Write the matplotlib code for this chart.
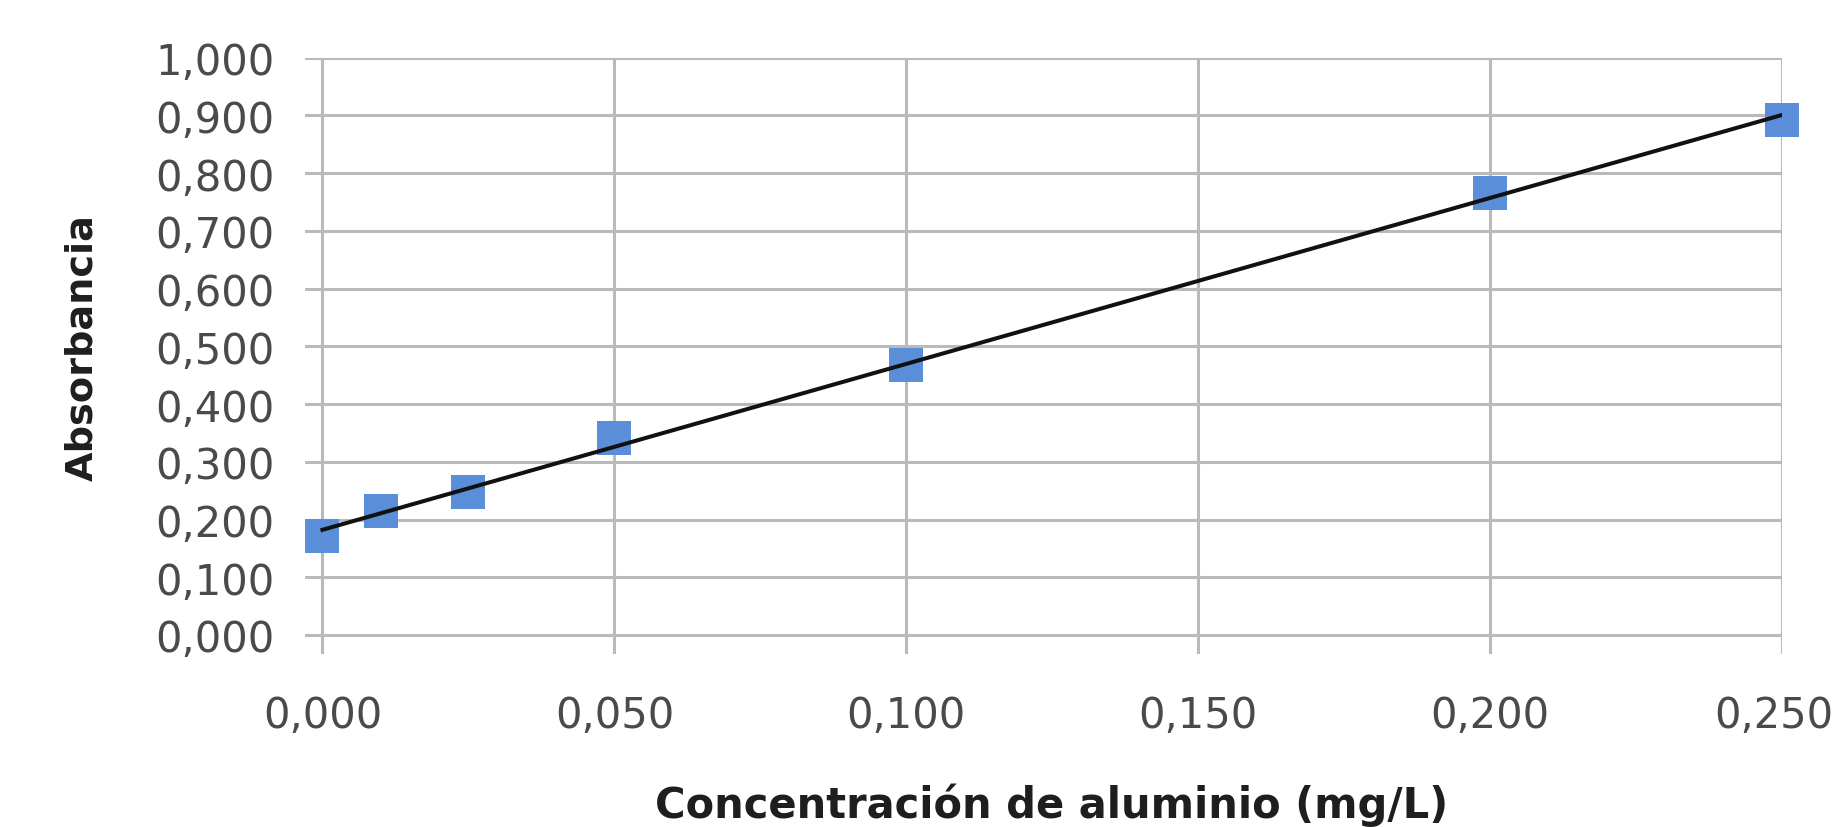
import numpy as np
import matplotlib
matplotlib.use("Agg")
import matplotlib.pyplot as plt
import matplotlib.transforms as mtransforms

# calibration data
concentracion = [0.000, 0.010, 0.025, 0.050, 0.100, 0.200, 0.250]
absorbancia = [0.172, 0.215, 0.247, 0.341, 0.467, 0.766, 0.892]
x_ticks = [0.000, 0.050, 0.100, 0.150, 0.200, 0.250]
y_ticks = [0.0, 0.1, 0.2, 0.3, 0.4, 0.5, 0.6, 0.7, 0.8, 0.9, 1.0]

fmt = lambda v: f"{v:.3f}".replace(".", ",")

fig = plt.figure(figsize=(18.37, 8.28), dpi=100)
ax = fig.add_axes([0.1660, 0.2089, 0.9701 - 0.1660, 0.9292 - 0.2089])

ax.set_xlim(-0.003, 0.25)
ax.set_ylim(-0.033, 1.0)

grid_col = "#bababa"
for yv in y_ticks:
    ax.axhline(yv, color=grid_col, lw=2.2, zorder=1)
for xv in x_ticks:
    ax.axvline(xv, color=grid_col, lw=2.2, zorder=1)

# linear trend line
m, b = np.polyfit(concentracion, absorbancia, 1)
xl = np.array([0.0, 0.25])
ax.plot(xl, m * xl + b, color="#111111", lw=2.9, zorder=3)

ax.plot(concentracion, absorbancia, "s", color="#5a8ed8", markersize=25,
        markeredgewidth=0, zorder=2, clip_on=False)

for s in ax.spines.values():
    s.set_visible(False)

ax.set_xticks(x_ticks)
ax.set_xticklabels([fmt(v) for v in x_ticks])
ax.set_yticks(y_ticks)
ax.set_yticklabels([fmt(v) for v in y_ticks])
ax.tick_params(length=0, labelsize=30, labelcolor="#4a4a4a")
ax.tick_params(axis="x", pad=29)
ax.tick_params(axis="y", pad=22)

# last x label sits at the right edge, nudge it in so it is not cut
last = ax.get_xticklabels()[-1]
last.set_transform(last.get_transform() +
                   mtransforms.ScaledTranslation(-8 / 100, 0, fig.dpi_scale_trans))

fig.text(0.0447, 0.58, "Absorbancia", rotation=90, ha="center", va="center",
         fontsize=27.5, fontweight="bold", color="#1e1e1e")
fig.text(0.5727, 0.027, "Concentración de aluminio (mg/L)", ha="center",
         va="center", fontsize=30, fontweight="bold", color="#1e1e1e")

fig.savefig("out.png", dpi=100, facecolor="white")
